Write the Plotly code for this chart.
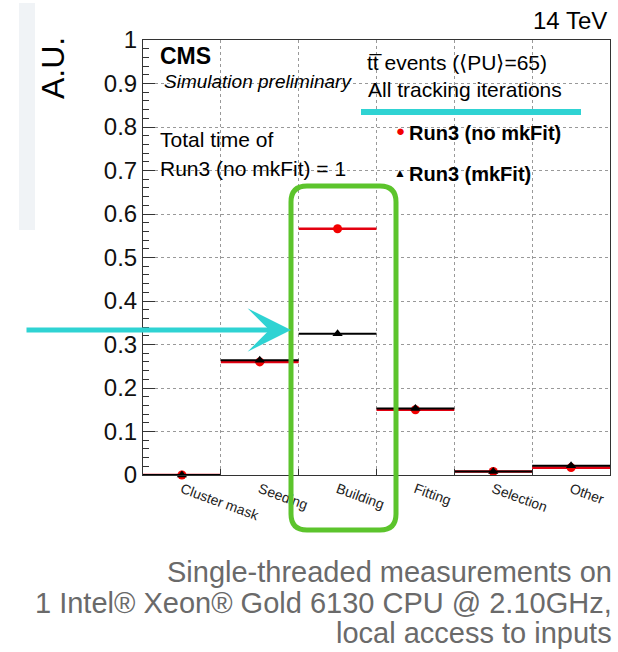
import numpy as np
import plotly.graph_objects as go

# ---------------- data ----------------
CATEGORIES = ["Cluster mask", "Seeding", "Building", "Fitting", "Selection", "Other"]
RUN3_NO_MKFIT = [0.0, 0.260, 0.566, 0.150, 0.008, 0.017]
RUN3_MKFIT = [0.0, 0.264, 0.325, 0.153, 0.008, 0.021]
Y_TICK_VALUES = [0.0, 0.1, 0.2, 0.3, 0.4, 0.5, 0.6, 0.7, 0.8, 0.9, 1.0]
Y_TICK_LABELS = ["0", "0.1", "0.2", "0.3", "0.4", "0.5", "0.6", "0.7", "0.8", "0.9", "1"]
CAPTION_LINES = [
    "Single-threaded measurements on",
    "1 Intel\u00ae Xeon\u00ae Gold 6130 CPU @ 2.10GHz,",
    "local access to inputs",
]

FONT = "Liberation Sans, Arial, Helvetica, sans-serif"
W, H = 618, 652
ML, MR, MT, MB = 143, 8, 40, 177
PW, PH = W - ML - MR, H - MT - MB


def px(x):
    return (x - ML) / PW


def py(y):
    return (MT + PH - y) / PH


centers = np.arange(len(CATEGORIES)) + 0.5
edges = list(np.arange(1, len(CATEGORIES)))

fig = go.Figure()
fig.add_trace(go.Scatter(
    x=centers, y=RUN3_NO_MKFIT, mode="markers", name="Run3 (no mkFit)",
    marker=dict(symbol="circle", size=9, color="#f20000"),
    error_x=dict(type="constant", value=0.5, thickness=2.6, width=0, color="#e30010"),
    cliponaxis=False, showlegend=False,
))
fig.add_trace(go.Scatter(
    x=centers, y=RUN3_MKFIT, mode="markers", name="Run3 (mkFit)",
    marker=dict(symbol="triangle-up", size=9, color="black"),
    error_x=dict(type="constant", value=0.5, thickness=2, width=0, color="black"),
    cliponaxis=False, showlegend=False,
))

CYAN = "#2fd3d3"
GREEN = "#5cc42c"

ann = []


def text(x, y, s, size, xanchor="left", color="black", **kw):
    ann.append(dict(x=px(x), y=py(y), xref="paper", yref="paper", text=s,
                    showarrow=False, xanchor=xanchor, yanchor="middle",
                    font=dict(family=FONT, size=size, color=color), **kw))


text(158, 56, "<b>CMS</b>", 23)
text(162, 82, "<i>Simulation preliminary</i>", 19)
text(158, 139, "Total time of", 21)
text(158, 168, "Run3 (no mkFit) = 1", 21)
text(365, 62, "tt\u0305 events (\u27e8PU\u27e9=65)", 21)
text(366, 89, "All tracking iterations", 21)
text(609, 21, "14 TeV", 24, xanchor="right")
text(400, 130, "\u25cf", 15, xanchor="center", color="#f20000")
text(407, 133, "<b>Run3 (no mkFit)</b>", 20)
text(400, 173, "\u25b2", 12, xanchor="center")
text(407, 174, "<b>Run3 (mkFit)</b>", 20)
ann.append(dict(x=px(53), y=py(68), xref="paper", yref="paper", text="A.U.",
                showarrow=False, textangle=-90, xanchor="center", yanchor="middle",
                font=dict(family=FONT, size=32, color="black")))
for i, line in enumerate(CAPTION_LINES):
    text(614, 572 + 30.5 * i, line, 29, xanchor="right", color="#6a6a6a")

# cyan arrow
ann.append(dict(x=px(291), y=py(330), xref="paper", yref="paper", text="",
                showarrow=True, ax=-266, ay=0, axref="pixel", ayref="pixel",
                arrowhead=3, arrowsize=1.45, arrowwidth=5, arrowcolor=CYAN))

# green rounded rectangle
x0, x1, yt, yb = px(291), px(396), py(186), py(530)
rx, ry = 16 / PW, 16 / PH
path = (f"M {x0+rx},{yt} L {x1-rx},{yt} Q {x1},{yt} {x1},{yt-ry} "
        f"L {x1},{yb+ry} Q {x1},{yb} {x1-rx},{yb} L {x0+rx},{yb} "
        f"Q {x0},{yb} {x0},{yb+ry} L {x0},{yt-ry} Q {x0},{yt} {x0+rx},{yt} Z")

shapes = [
    dict(type="rect", xref="paper", yref="paper", x0=px(19), x1=px(35), y0=py(3), y1=py(230),
         fillcolor="#f0f3f6", line=dict(width=0), layer="below"),
    dict(type="line", xref="paper", yref="paper", x0=px(361), x1=px(581), y0=py(112), y1=py(112),
         line=dict(color=CYAN, width=6)),
    dict(type="path", xref="paper", yref="paper", path=path,
         line=dict(color=GREEN, width=5)),
]

fig.update_layout(
    width=W, height=H, autosize=False,
    margin=dict(l=ML, r=MR, t=MT, b=MB, pad=0),
    paper_bgcolor="white", plot_bgcolor="white",
    font=dict(family=FONT, color="black"),
    annotations=ann, shapes=shapes,
    xaxis=dict(
        range=[0, len(CATEGORIES)], tickmode="array", tickvals=centers, ticktext=CATEGORIES,
        tickangle=20, ticks="", showgrid=False, zeroline=False,
        showline=True, linecolor="#333", linewidth=1, mirror=True,
        tickfont=dict(family=FONT, size=14, color="#222"),
        minor=dict(tickmode="array", tickvals=edges, ticks="inside", ticklen=6,
                   tickcolor="#333", showgrid=True, gridcolor="#999", griddash="dot", gridwidth=1),
    ),
    yaxis=dict(
        range=[0, 1], tickmode="array", tickvals=Y_TICK_VALUES, ticktext=Y_TICK_LABELS,
        ticks="inside", ticklen=12, tickcolor="#333", showgrid=True, gridcolor="#999",
        griddash="dot", gridwidth=1, zeroline=False,
        showline=True, linecolor="#333", linewidth=1, mirror=True,
        tickfont=dict(family=FONT, size=24, color="#111"),
        minor=dict(dtick=0.02, tick0=0, ticks="inside", ticklen=6, tickcolor="#333", showgrid=False),
    ),
)

fig.write_html(
    "out.html",
    config={"displayModeBar": False},
    post_script="document.body.style.margin='0';document.body.style.overflow='hidden';",
)
